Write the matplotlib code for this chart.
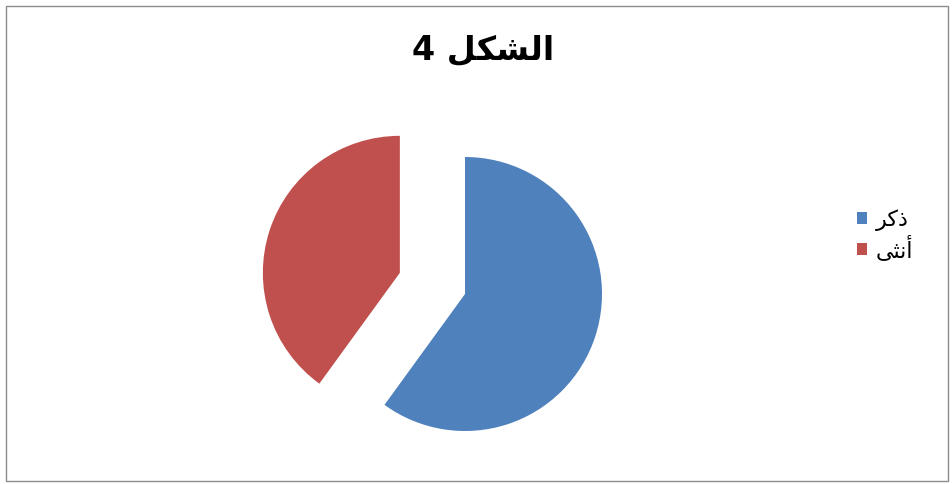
import matplotlib
matplotlib.use("Agg")
import matplotlib.pyplot as plt
from matplotlib.patches import Rectangle

# Arabic text written in visual order with presentation forms (no shaping in matplotlib)
title = "4 \uFEDE\uFEDC\uFEB8\uFEDF\uFE8D"      # الشكل 4
labels = ["\uFEAE\uFEDB\uFEAB",                 # ذكر
          "\uFEF0\uFE9C\uFEE7\uFE83"]           # أنثى
values = [60, 40]
colors = ["#4F81BD", "#C0504D"]
explode = [0, 0.5]

W, H = 952, 484
fig = plt.figure(figsize=(W / 100, H / 100), dpi=100)

# pie centre and radius in pixels
cx, cy, r = 465, 484 - 294, 137
ax = fig.add_axes([0, 0, 1, 1])
wedges, _ = ax.pie(values, colors=colors, explode=explode, startangle=90,
                   counterclock=False, radius=1,
                   wedgeprops=dict(linewidth=0))
ax.set_xlim(-cx / r, (W - cx) / r)
ax.set_ylim(-cy / r, (H - cy) / r)
ax.axis("off")

fig.text(483 / W, 1 - 50 / H, title, ha="center", va="center",
         fontsize=24, fontweight="bold", family=["DejaVu Sans"])

leg = fig.legend(wedges, labels, loc="upper left",
                 bbox_to_anchor=(837 / W, 1 - 189 / H), frameon=False,
                 handlelength=0.45, handleheight=0.45, handletextpad=0.4,
                 labelspacing=0.2, prop=dict(family="DejaVu Sans", size=16))

fig.add_artist(Rectangle((6 / W, 3 / H), (W - 10) / W, (H - 9) / H,
                         transform=fig.transFigure, fill=False,
                         edgecolor="#8c8c8c", linewidth=1))

fig.savefig("out.png", dpi=100)
